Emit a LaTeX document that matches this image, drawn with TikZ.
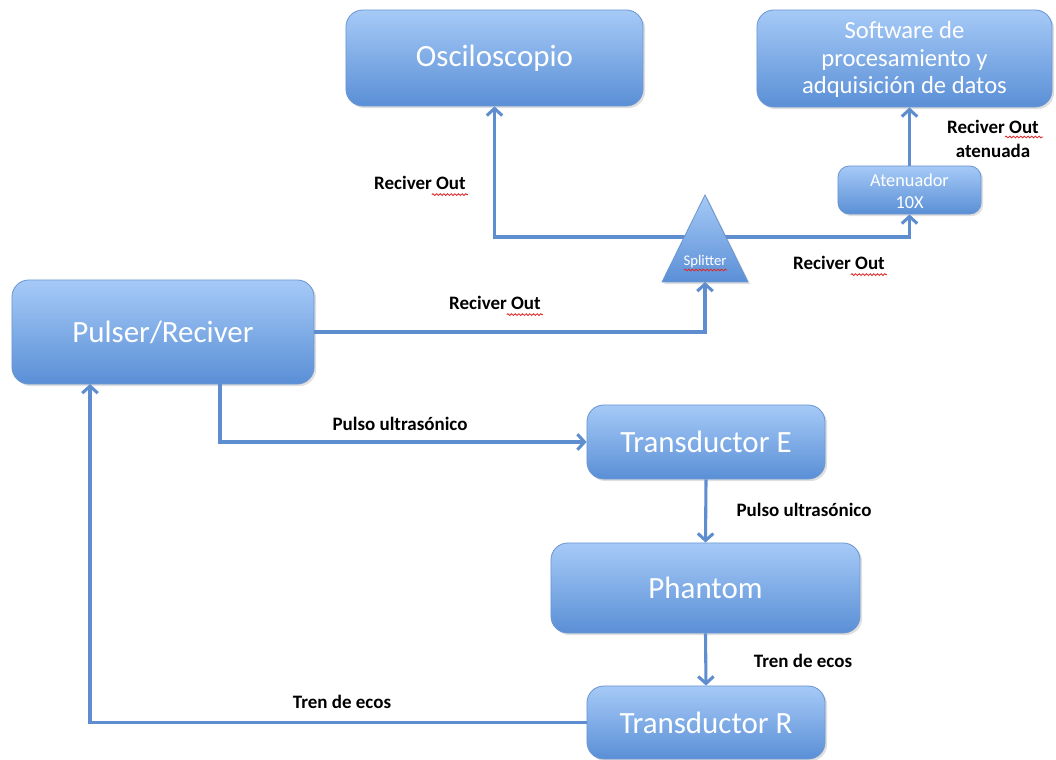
\documentclass[tikz,border=0pt]{standalone}
\usepackage{fontspec}
\setmainfont{Carlito}
\usetikzlibrary{arrows.meta,shadows,decorations.pathmorphing}

\definecolor{boxtop}{RGB}{166,202,247}
\definecolor{boxbot}{RGB}{90,143,214}
\definecolor{boxline}{RGB}{108,151,210}
\definecolor{wirecol}{RGB}{94,142,208}
\definecolor{spellred}{RGB}{222,40,40}

\tikzset{
  block/.style={rectangle, rounded corners=12pt, draw=boxline, line width=.6pt,
    top color=boxtop, bottom color=boxbot, text=white, align=center, inner sep=0,
    drop shadow={opacity=.25, shadow xshift=1.5pt, shadow yshift=-1.5pt}},
  wire/.style={draw=wirecol, line width=2.2pt, -{Straight Barb[length=5pt,width=11pt]}},
  tag/.style={font=\bfseries\fontsize{13.5}{17}\selectfont, align=center},
  spell/.style={draw=spellred, line width=.6pt, decorate,
    decoration={snake, amplitude=.6pt, segment length=2.6pt}},
}

\begin{document}
\begin{tikzpicture}[x=.025cm, y=-.025cm]
\useasboundingbox (0,0) rectangle (1056,760);

\node [block, minimum width=7.425cm, minimum height=2.4cm, font=\fontsize{22}{26}\selectfont] (osc) at (494.5,58) {Osciloscopio};
\node [block, minimum width=7.375cm, minimum height=2.425cm, font=\fontsize{17.5}{19.5}\selectfont] (soft) at (904.5,58.5) {\rule{0pt}{14pt}Software de\\procesamiento y\\adquisición de datos};
\node [block, rounded corners=8pt, minimum width=3.575cm, minimum height=1.2cm, font=\fontsize{13}{16}\selectfont] (aten) at (909.5,190) {\rule{0pt}{11pt}Atenuador\\10X};
\node [block, minimum width=7.55cm, minimum height=2.6cm, font=\fontsize{22}{26}\selectfont] (pulser) at (163,332) {Pulser/Reciver};
\node [block, minimum width=5.95cm, minimum height=1.85cm, font=\fontsize{22}{26}\selectfont] (transE) at (706,442) {Transductor E};
\node [block, minimum width=7.725cm, minimum height=2.25cm, font=\fontsize{22}{26}\selectfont] (phantom) at (705.5,588) {Phantom};
\node [block, minimum width=5.95cm, minimum height=1.825cm, font=\fontsize{22}{26}\selectfont] (transR) at (706,722.5) {Transductor R};

\coordinate (splitB) at (705,282);
\coordinate (splitM) at (705,237);
\coordinate (pdown) at (220,384);
\coordinate (pup) at (90,384);

\draw [wire] (pulser.east) -| (splitB);
\draw [wire] (splitM) -| (osc.south);
\draw [wire] (splitM) -| (aten.south);
\draw [wire] (aten.north) -- (aten.north |- soft.south);
\draw [wire] (pdown) |- (transE.west);
\draw [wire] (transE.south) -- (phantom.north);
\draw [wire] (phantom.south) -- (transR.north);
\draw [wire] (transR.west) -| (pup);

% splitter triangle on top of the wires
\draw [draw=boxline, line width=.6pt, top color=boxtop, bottom color=boxbot,
  drop shadow={opacity=.25, shadow xshift=1.5pt, shadow yshift=-1.5pt}]
  (705,195) -- (748,282) -- (662,282) -- cycle;
\node [text=white, font=\fontsize{10.5}{12}\selectfont] (split) at (705,262) {Splitter};

\node [tag] (outOsc) at (420,183) {Reciver Out};
\node [tag] (outAten) at (839,263) {Reciver Out};
\node [tag] (outPulser) at (495,303) {Reciver Out};
\node [tag] (outSoft) at (993,139) {Reciver Out\\atenuada};
\node [tag] (pulsoA) at (400,424) {Pulso ultrasónico};
\node [tag] (pulsoB) at (804,510) {Pulso ultrasónico};
\node [tag] (ecosA) at (803,661) {Tren de ecos};
\node [tag] (ecosB) at (342,702) {Tren de ecos};

% spell-check marks
\draw [spell] ([shift={(-39,5)}]outOsc.base east) -- ([shift={(-3,5)}]outOsc.base east);
\draw [spell] ([shift={(-39,5)}]outAten.base east) -- ([shift={(-3,5)}]outAten.base east);
\draw [spell] ([shift={(-39,5)}]outPulser.base east) -- ([shift={(-3,5)}]outPulser.base east);
\draw [spell] (1005,137) -- (1043,137);
\draw [spell] (684,270) -- (727,270);

\end{tikzpicture}
\end{document}
